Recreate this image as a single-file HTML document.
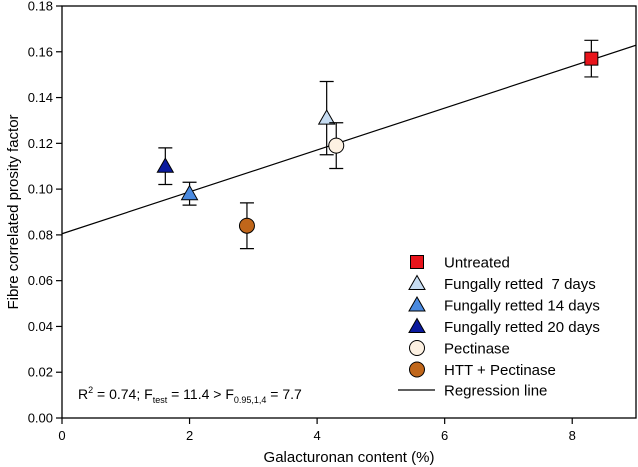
<!DOCTYPE html>
<html><head><meta charset="utf-8"><style>
body{margin:0;background:#fff}
svg{font-family:"Liberation Sans",Arial,sans-serif;display:block}
</style></head><body>
<svg id="c" width="638" height="467"></svg>
<script>
const xTicks=[0,2,4,6,8];
const yTicks=[0,0.02,0.04,0.06,0.08,0.10,0.12,0.14,0.16,0.18];
const names=["Untreated","Fungally retted  7 days","Fungally retted 14 days","Fungally retted 20 days","Pectinase","HTT + Pectinase"];
const xs=[8.3,4.15,2.0,1.62,4.3,2.9];
const ys=[0.157,0.131,0.098,0.110,0.119,0.084];
const errs=[0.008,0.016,0.005,0.008,0.010,0.010];
const regIntercept=0.0805;
const regSlope=0.00915;
const shapes=["square","tri","tri","tri","circle","circle"];
const fills=["#e8141b","#c6dcf2","#4a8ae0","#0a1a9e","#fdf1e2","#c0661a"];
const NS="http://www.w3.org/2000/svg";
const svg=document.getElementById('c');
const L=62,R=636,T=6,B=418;
const sx=v=>L+(v/9)*(R-L);
const sy=v=>B-(v/0.18)*(B-T);
function mk(t,a,txt){const e=document.createElementNS(NS,t);for(const k in a)e.setAttribute(k,a[k]);if(txt!==undefined)e.textContent=txt;svg.appendChild(e);return e;}
const fr=mk('rect',{x:L,y:T,width:R-L,height:B-T,fill:'none',stroke:'#000','stroke-width':1.3});


xTicks.forEach(v=>{const l=mk('line',{x1:sx(v),x2:sx(v),y1:B,y2:B+6,stroke:'#000','stroke-width':1.2});


const t=mk('text',{x:sx(v),y:B+22,'text-anchor':'middle','font-size':13},String(v));

});
yTicks.forEach(v=>{const l=mk('line',{x1:L-6,x2:L,y1:sy(v),y2:sy(v),stroke:'#000','stroke-width':1.2});


const t=mk('text',{x:L-9,y:sy(v)+4.5,'text-anchor':'end','font-size':13},v.toFixed(2));

});
const xt=mk('text',{x:349,y:462,'text-anchor':'middle','font-size':15},'Galacturonan content (%)');


const yt=mk('text',{x:0,y:0,'text-anchor':'middle','font-size':15,transform:'translate(18,212) rotate(-90)'},'Fibre correlated prosity factor');


const rl=mk('line',{x1:sx(0),y1:sy(regIntercept),x2:sx(9),y2:sy(regIntercept+regSlope*9),stroke:'#000','stroke-width':1.2});


function marker(shape,cx,cy,fill,name){let e;
if(shape==='square')e=mk('rect',{x:cx-6.5,y:cy-6.5,width:13,height:13,fill,stroke:'#000','stroke-width':1});
else if(shape==='tri')e=mk('polygon',{points:`${cx},${cy-8} ${cx+8},${cy+6} ${cx-8},${cy+6}`,fill,stroke:'#000','stroke-width':1});
else e=mk('circle',{cx,cy,r:7.5,fill,stroke:'#000','stroke-width':1});

}
xs.forEach((x,i)=>{const cx=sx(x);const y1=sy(ys[i]+errs[i]),y2=sy(ys[i]-errs[i]);
const g=mk('path',{d:`M${cx},${y1}V${y2}M${cx-7},${y1}H${cx+7}M${cx-7},${y2}H${cx+7}`,stroke:'#000','stroke-width':1.2,fill:'none'});


marker(shapes[i],cx,sy(ys[i]),fills[i],'data-point');});
names.forEach((n,i)=>{const y=262+i*21.5;marker(shapes[i],417,y,fills[i],'legend-marker');
const t=mk('text',{x:444,y:y+5.5,'font-size':15,'xml:space':'preserve'},n);t.style.whiteSpace='pre';

});
const ll=mk('line',{x1:398,x2:435,y1:390,y2:390,stroke:'#000','stroke-width':1.2});


const lt=mk('text',{x:444,y:395.5,'font-size':15},'Regression line');


const an=mk('text',{x:78,y:399,'font-size':14});


an.innerHTML='R<tspan dy="-6" font-size="9">2</tspan><tspan dy="6"> = 0.74; F</tspan><tspan dy="4" font-size="9">test</tspan><tspan dy="-4"> = 11.4 &gt; F</tspan><tspan dy="4" font-size="9">0.95,1,4</tspan><tspan dy="-4"> = 7.7</tspan>';
</script>
</body></html>
